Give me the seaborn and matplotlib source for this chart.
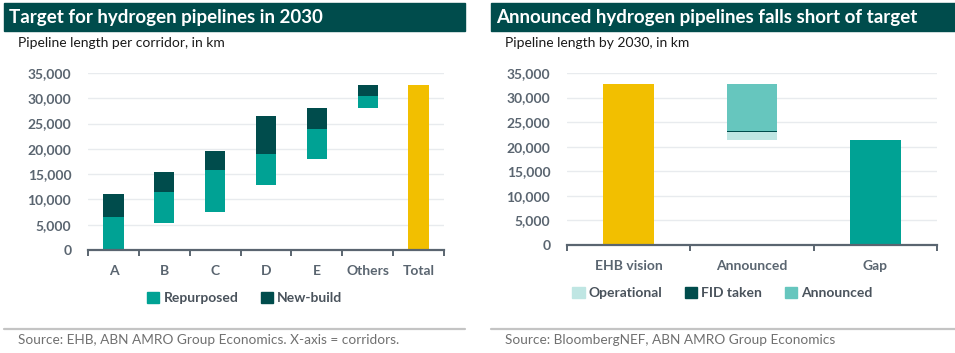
import numpy as np
import matplotlib.pyplot as plt
import seaborn as sns
from matplotlib.patches import Patch, Rectangle

# Left chart: pipeline length per corridor (km), floating bars
corridors = ["A", "B", "C", "D", "E", "Others", "Total"]
base = [0, 5400, 7600, 12900, 18000, 28000, 0]
repurposed = [6600, 6000, 8300, 6100, 6000, 2400, 0]
new_build = [4400, 4000, 3600, 7500, 4000, 2300, 0]
total = [0, 0, 0, 0, 0, 0, 32700]

# Right chart: pipeline length by 2030 (km)
stages = ["EHB vision", "Announced", "Gap"]
stage_base = [0, 21400, 0]
operational = [0, 1600, 0]
fid_taken = [0, 200, 0]
announced = [0, 9500, 0]
vision = [32700, 0, 0]
gap = [0, 0, 21400]

DARK = "#004c4c"
TEAL = "#00a294"
YELLOW = "#f2bf00"
LIGHT = "#66c6be"
PALE = "#bfe6e3"
TICK = "#5a6570"
GRID = "#e8ebee"

sns.set_theme(style="white")
plt.rcParams["font.family"] = ["Lato", "DejaVu Sans"]

W, H = 955, 353
fig = plt.figure(figsize=(W / 100, H / 100), dpi=100)


def px_axes(x0, y0, x1, y1):
    return fig.add_axes([x0 / W, 1 - y1 / H, (x1 - x0) / W, (y1 - y0) / H])


def style_axis(ax, n):
    ax.set_ylim(0, 35000)
    ax.set_xlim(-0.5, n - 0.5)
    ax.set_yticks(range(0, 35001, 5000))
    ax.set_yticklabels([f"{v:,}" for v in range(0, 35001, 5000)])
    ax.grid(axis="y", color=GRID, linewidth=1)
    ax.grid(axis="x", visible=False)
    ax.set_axisbelow(True)
    for s in ["left", "right", "top"]:
        ax.spines[s].set_visible(False)
    ax.spines["bottom"].set_color(TICK)
    ax.spines["bottom"].set_linewidth(1.6)
    ax.set_xticks(np.arange(-0.5, n, 1.0))
    ax.set_xticklabels([])
    ax.tick_params(axis="x", which="major", direction="out", length=4,
                   width=1.4, color=TICK, bottom=True)
    ax.tick_params(axis="y", length=0, pad=12, labelsize=10, labelcolor=TICK)
    for t in ax.get_yticklabels():
        t.set_fontweight("bold")
    ax.set_xlabel("")
    ax.set_ylabel("")


def header(x0, x1, title, subtitle, sub_x):
    fig.patches.append(Rectangle((x0 / W, 1 - 31 / H), (x1 - x0) / W, 28 / H,
                                 transform=fig.transFigure, color=DARK, zorder=0))
    fig.text((x0 + 5) / W, 1 - 17 / H, title, color="white", fontsize=13.5,
             fontweight="bold", va="center")
    fig.text(sub_x / W, 1 - 43 / H, subtitle, color="#1a1a1a", fontsize=10,
             va="center")


def footer(x0, x1, text, tx):
    fig.add_artist(plt.Line2D([x0 / W, x1 / W], [1 - 328.5 / H] * 2,
                              color="#c4c4c4", linewidth=1.6,
                              transform=fig.transFigure))
    fig.text(tx / W, 1 - 340 / H, text, color="#707070", fontsize=9.8,
             va="center")


# ---- left chart
ax1 = px_axes(88, 73, 444, 250)
lo = np.array(base)
sns.barplot(x=corridors, y=repurposed, bottom=lo, color=TEAL, width=0.4,
            saturation=1, errorbar=None, linewidth=0, ax=ax1)
sns.barplot(x=corridors, y=new_build, bottom=lo + np.array(repurposed),
            color=DARK, width=0.4, saturation=1, errorbar=None, linewidth=0, ax=ax1)
sns.barplot(x=corridors, y=total, color=YELLOW, width=0.4, saturation=1,
            errorbar=None, linewidth=0, ax=ax1)
style_axis(ax1, len(corridors))
for i, c in enumerate(corridors):
    ax1.text(i, -0.118, c, transform=ax1.get_xaxis_transform(), ha="center",
             va="center", fontsize=10, fontweight="bold", color=TICK)
ax1.legend(handles=[Patch(color=TEAL, label="Repurposed"),
                    Patch(color=DARK, label="New-build")],
           loc="center", bbox_to_anchor=(0.44, -0.27), ncol=2, frameon=False,
           handlelength=0.9, handleheight=0.9, handletextpad=0.3,
           columnspacing=1.6, prop={"weight": "bold", "size": 10},
           labelcolor="#4a535c")

header(4, 465, "Target for hydrogen pipelines in 2030",
       "Pipeline length per corridor, in km", 18)
footer(4, 465, "Source: EHB, ABN AMRO Group Economics. X-axis = corridors.", 18)

# ---- right chart
ax2 = px_axes(567, 73, 937, 245)
sb = np.array(stage_base)
sns.barplot(x=stages, y=vision, color=YELLOW, width=0.41, saturation=1,
            errorbar=None, linewidth=0, ax=ax2)
sns.barplot(x=stages, y=operational, bottom=sb, color=PALE, width=0.41,
            saturation=1, errorbar=None, linewidth=0, ax=ax2)
sb2 = sb + np.array(operational)
sns.barplot(x=stages, y=fid_taken, bottom=sb2, color=DARK, width=0.41,
            saturation=1, errorbar=None, linewidth=0, ax=ax2)
sb3 = sb2 + np.array(fid_taken)
sns.barplot(x=stages, y=announced, bottom=sb3, color=LIGHT, width=0.41,
            saturation=1, errorbar=None, linewidth=0, ax=ax2)
sns.barplot(x=stages, y=gap, color=TEAL, width=0.41, saturation=1,
            errorbar=None, linewidth=0, ax=ax2)
style_axis(ax2, len(stages))
for i, c in enumerate(stages):
    ax2.text(i, -0.12, c, transform=ax2.get_xaxis_transform(), ha="center",
             va="center", fontsize=10, fontweight="bold", color=TICK)
ax2.legend(handles=[Patch(color=PALE, label="Operational"),
                    Patch(color=DARK, label="FID taken"),
                    Patch(color=LIGHT, label="Announced")],
           loc="center", bbox_to_anchor=(0.42, -0.28), ncol=3, frameon=False,
           handlelength=0.9, handleheight=0.9, handletextpad=0.3,
           columnspacing=1.6, prop={"weight": "bold", "size": 10},
           labelcolor="#4a535c")

header(491, 955, "Announced hydrogen pipelines falls short of target",
       "Pipeline length by 2030, in km", 505)
footer(491, 955, "Source: BloombergNEF, ABN AMRO Group Economics", 505)

fig.savefig("out.png", dpi=100)
